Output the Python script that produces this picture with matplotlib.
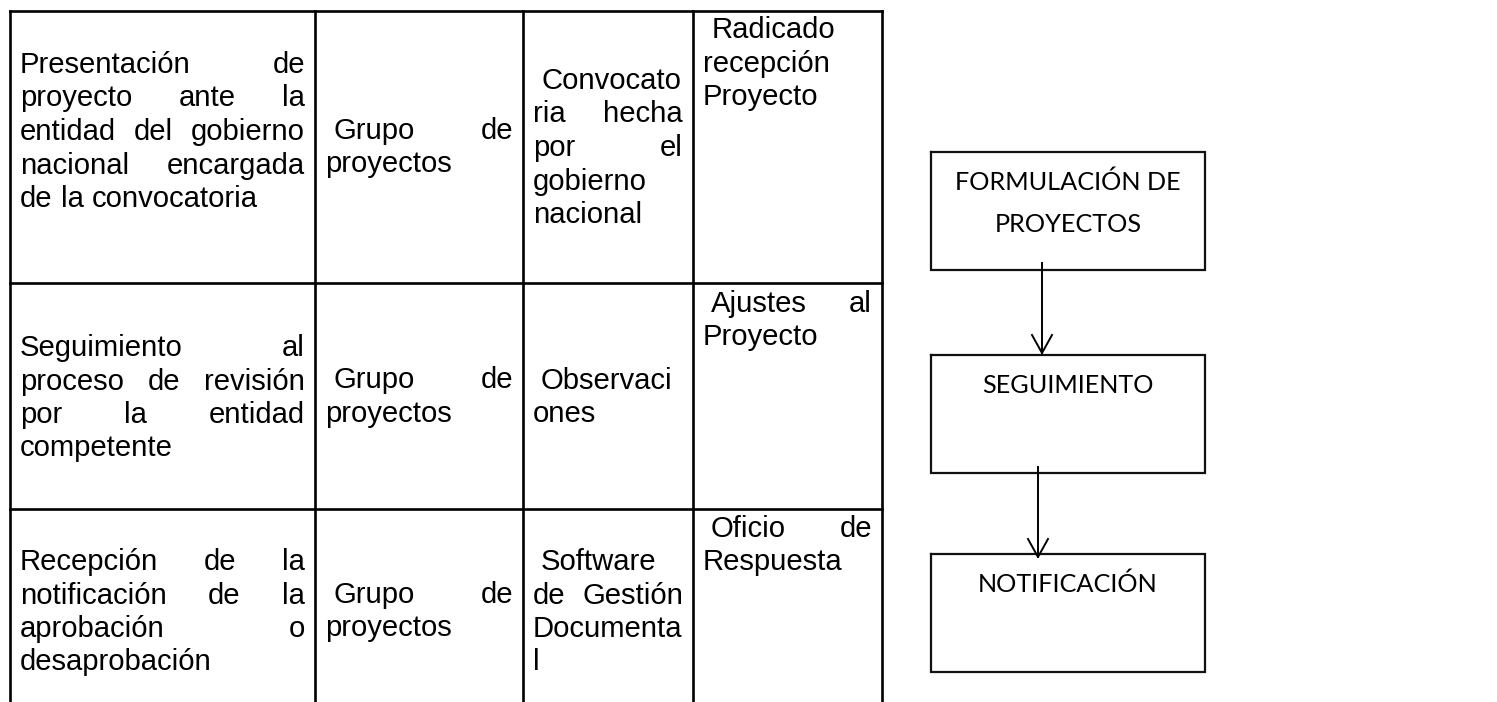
import matplotlib
matplotlib.use("Agg")
import matplotlib.pyplot as plt

W, H, DPI = 1497, 702, 100

# ---------------- content (line breaks as in the reference) ----------------
actividades = [
    ["Presentación de", "proyecto ante la", "entidad del gobierno",
     "nacional encargada", "de la convocatoria"],
    ["Seguimiento al", "proceso de revisión", "por la entidad", "competente"],
    ["Recepción de la", "notificación de la", "aprobación o", "desaprobación"],
]
responsables = [
    [" Grupo de", "proyectos"],
    [" Grupo de", "proyectos"],
    [" Grupo de", "proyectos"],
]
entradas = [
    [" Convocato", "ria hecha", "por el", "gobierno", "nacional"],
    [" Observaci", "ones"],
    [" Software", "de Gestión", "Documenta", "l"],
]
salidas = [
    [" Radicado", "recepción", "Proyecto"],
    [" Ajustes al", "Proyecto"],
    [" Oficio de", "Respuesta"],
]
pasos = [["FORMULACIÓN DE", "PROYECTOS"], ["SEGUIMIENTO"], ["NOTIFICACIÓN"]]

columnas = [actividades, responsables, entradas, salidas]

# ---------------- layout (pixels) ----------------
col_edges = [10, 315, 523, 693, 882]
row_edges = [11, 283, 509, 702]
pad = 10
first_base = [[73, 139, 89, 38],
              [356, 388.5, 389, 311.5],
              [570, 603, 570, 537]]
step = 33.5

box_x = (931, 1205)
box_y = [(152, 270), (355, 473), (554, 672)]
arrow_x = [1042, 1038]
arrow_y = [(263, 353), (467, 557)]

fig = plt.figure(figsize=(W / DPI, H / DPI), dpi=DPI)
ax = fig.add_axes([0, 0, 1, 1])
ax.set_xlim(0, W)
ax.set_ylim(H, 0)
ax.axis("off")
renderer = fig.canvas.get_renderer()

TFONT = dict(family="Liberation Sans", fontsize=21.1, color="black")


def width(s, **kw):
    t = ax.text(0, 0, s, **kw)
    w = t.get_window_extent(renderer).width
    t.remove()
    return w


space_w = width("x x", **TFONT) - width("xx", **TFONT)


def draw_para(lines, x0, x1, y0):
    n = len(lines)
    for i, line in enumerate(lines):
        y = y0 + i * step
        lead = (len(line) - len(line.lstrip(" "))) * space_w
        words = line.split()
        ws = [width(w, **TFONT) for w in words]
        if i == n - 1 or len(words) == 1:
            gap = space_w
        else:
            gap = (x1 - x0 - lead - sum(ws)) / (len(words) - 1)
        x = x0 + lead
        for w, wd in zip(words, ws):
            ax.text(x, y, w, ha="left", va="baseline", **TFONT)
            x += wd + gap


# table grid
lw_t = 1.9
for x in col_edges:
    ax.plot([x, x], [row_edges[0], row_edges[-1]], color="black", lw=lw_t,
            solid_capstyle="projecting")
for y in row_edges[:-1]:
    ax.plot([col_edges[0], col_edges[-1]], [y, y], color="black", lw=lw_t,
            solid_capstyle="projecting")

# table text
for c, col in enumerate(columnas):
    for r, lines in enumerate(col):
        draw_para(lines, col_edges[c] + pad, col_edges[c + 1] - pad, first_base[r][c])

# flow chart
target = 171.0
base = width("SEGUIMIENTO", family="Lato", fontsize=20)
BFONT = dict(family="Lato", fontsize=20 * target / base, color="black")
cx = (box_x[0] + box_x[1]) / 2
for (y0, y1), lines in zip(box_y, pasos):
    ax.plot([box_x[0], box_x[1], box_x[1], box_x[0], box_x[0]],
            [y0, y0, y1, y1, y0], color="#111111", lw=1.6,
            solid_joinstyle="miter")
    for i, ln in enumerate(lines):
        ax.text(cx, y0 + 38 + i * 42, ln, ha="center", va="baseline", **BFONT)

for x, (ya, yb) in zip(arrow_x, arrow_y):
    ax.plot([x, x], [ya, yb], color="black", lw=1.4)
    ax.plot([x - 10, x, x + 10], [yb - 18, yb, yb - 18], color="black", lw=1.4)

fig.savefig("out.png", dpi=DPI)
